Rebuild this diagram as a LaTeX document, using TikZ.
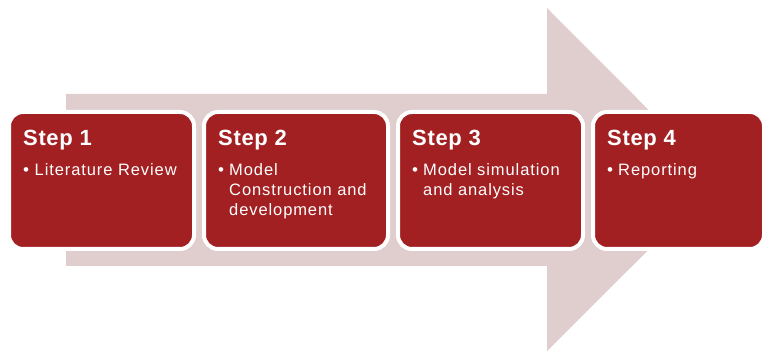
\documentclass[tikz,border=0pt]{standalone}
\usepackage{fontspec}
\setmainfont{Liberation Sans}
\newfontfamily\titlefont[LetterSpace=3]{Liberation Sans}
\newfontfamily\bodyfont[LetterSpace=5.5]{Liberation Sans}
\definecolor{stepred}{HTML}{A21F22}
\definecolor{arrowpink}{HTML}{E0CDCE}
\begin{document}
\begin{tikzpicture}[x=1pt,y=-1pt,
  stepbox/.style={fill=stepred,draw=white,line width=4pt,rounded corners=14pt},
  steptitle/.style={anchor=base west,inner sep=0pt,text=white,font=\titlefont\fontsize{22}{26}\selectfont\bfseries},
  stepbullet/.style={anchor=base west,inner sep=0pt,text=white,font=\fontsize{17}{20}\selectfont},
  steptext/.style={anchor=base west,inner sep=0pt,text=white,font=\bodyfont\fontsize{16.5}{19.8}\selectfont}]
\useasboundingbox (0,0) rectangle (763,352);
\clip (0,0) rectangle (763,352);
% big arrow
\fill[arrowpink] (66,94) -- (547,94) -- (547,8) -- (718.5,180) -- (547,351) -- (547,266) -- (66,266) -- cycle;
% boxes
\draw[stepbox] (9,112) rectangle (194,249);
\draw[stepbox] (204,112) rectangle (388,249);
\draw[stepbox] (398,112) rectangle (583,249);
\draw[stepbox] (593,112) rectangle (764,249);
% texts
\node[steptitle] (t1) at (23,146) {Step 1};
\node[stepbullet] (b1) at (23,176) {•};
\node[steptext] (x1) at (34.5,176) {\begin{tabular}[t]{@{}l@{}}Literature Review\end{tabular}};
\node[steptitle] (t2) at (218,146) {Step 2};
\node[stepbullet] (b2) at (218,176) {•};
\node[steptext] (x2) at (229,176) {\begin{tabular}[t]{@{}l@{}}Model\\Construction and\\development\end{tabular}};
\node[steptitle] (t3) at (412,146) {Step 3};
\node[stepbullet] (b3) at (412,176) {•};
\node[steptext] (x3) at (423,176) {\begin{tabular}[t]{@{}l@{}}Model simulation\\and analysis\end{tabular}};
\node[steptitle] (t4) at (607,146) {Step 4};
\node[stepbullet] (b4) at (607,176) {•};
\node[steptext] (x4) at (618,176) {\begin{tabular}[t]{@{}l@{}}Reporting\end{tabular}};
\end{tikzpicture}
\end{document}
